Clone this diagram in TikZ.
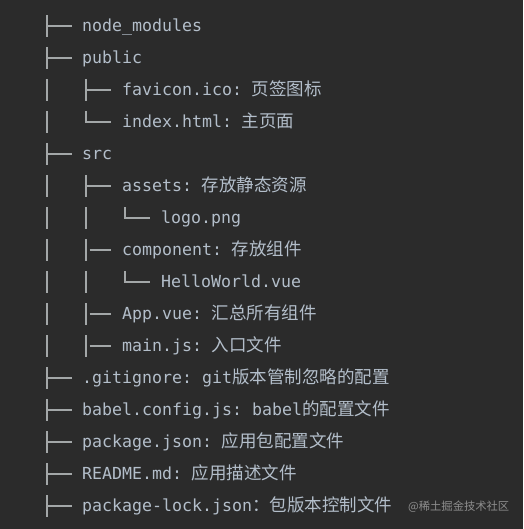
\documentclass[tikz,border=0pt]{standalone}
\usepackage{fontspec}
\newfontfamily\codefont{DejaVu Sans Mono}
\newfontfamily\cjk{Noto Sans CJK SC}
\definecolor{bgc}{HTML}{2B2B2B}
\definecolor{txtc}{HTML}{B3BECA}
\definecolor{linec}{HTML}{A3A7A8}
\definecolor{wmc}{HTML}{8E8E8E}
\newcommand\zhtext[1]{{\cjk\fontsize{17.5}{20}\selectfont #1}}
\newcommand\zsp{\hspace{9.5pt}}
\newcommand\msp{\hspace{10pt}}
\tikzset{
  txt/.style={anchor=base west, inner sep=0pt, text=txtc, font=\codefont\fontsize{16.6}{20}\selectfont},
  treeline/.style={draw=linec, line width=1.6pt},
}
% row y = 26 + 32*i
\newcommand\treeTee[2]{\draw[treeline] (#1,{26+32*#2-11}) -- (#1,{26+32*#2+11}) (#1,{26+32*#2}) -- ({#1+25},{26+32*#2});}
\newcommand\treeBarDash[2]{\draw[treeline] (#1,{26+32*#2-11}) -- (#1,{26+32*#2+11}) ({#1+3.5},{26+32*#2}) -- ({#1+25},{26+32*#2});}
\newcommand\treeEnd[2]{\draw[treeline] (#1,{26+32*#2-11}) -- (#1,{26+32*#2}) -- ({#1+25},{26+32*#2});}
\newcommand\treeBar[2]{\draw[treeline] (#1,{26+32*#2-11}) -- (#1,{26+32*#2+11});}
\begin{document}
\begin{tikzpicture}[x=1pt,y=-1pt]
\fill[bgc] (0,0) rectangle (523,529);
\useasboundingbox (0,0) rectangle (523,529);

% tree lines
\treeTee{47}{0}
\treeTee{47}{1}
\treeBar{47}{2} \treeTee{86}{2}
\treeBar{47}{3} \treeEnd{86}{3}
\treeTee{47}{4}
\treeBar{47}{5} \treeTee{86}{5}
\treeBar{47}{6} \treeBar{86}{6} \treeEnd{125}{6}
\treeBar{47}{7} \treeBarDash{86}{7}
\treeBar{47}{8} \treeBar{86}{8} \treeEnd{125}{8}
\treeBar{47}{9} \treeBarDash{86}{9}
\treeBar{47}{10} \treeBarDash{86}{10}
\treeTee{47}{11}
\treeTee{47}{12}
\treeTee{47}{13}
\treeTee{47}{14}
\treeTee{47}{15}

% labels (baseline = row y + 5.5)
\node[txt] (n0)  at (82,31.5)  {node\_modules};
\node[txt] (n1)  at (82,63.5)  {public};
\node[txt] (n2)  at (122,95.5) {favicon.ico:\zsp\zhtext{页签图标}};
\node[txt] (n3)  at (122,127.5) {index.html:\zsp\zhtext{主页面}};
\node[txt] (n4)  at (82,159.5) {src};
\node[txt] (n5)  at (122,191.5) {assets:\zsp\zhtext{存放静态资源}};
\node[txt] (n6)  at (161,223.5) {logo.png};
\node[txt] (n7)  at (122,255.5) {component:\zsp\zhtext{存放组件}};
\node[txt] (n8)  at (161,287.5) {HelloWorld.vue};
\node[txt] (n9)  at (122,319.5) {App.vue:\zsp\zhtext{汇总所有组件}};
\node[txt] (n10) at (122,351.5) {main.js:\zsp\zhtext{入口文件}};
\node[txt] (n11) at (82,383.5) {.gitignore:\msp{}git\zhtext{版本管制忽略的配置}};
\node[txt] (n12) at (82,415.5) {babel.config.js:\msp{}babel\zhtext{的配置文件}};
\node[txt] (n13) at (82,447.5) {package.json:\zsp\zhtext{应用包配置文件}};
\node[txt] (n14) at (82,479.5) {README.md:\zsp\zhtext{应用描述文件}};
\node[txt] (n15) at (82,511.5) {package-lock.json\zhtext{：包版本控制文件}};

% watermark
\node[anchor=base west, inner sep=0pt, text=wmc, font=\cjk\fontsize{11.3}{13}\selectfont] (wm) at (408,510.5) {@稀土掘金技术社区};
\end{tikzpicture}
\end{document}
